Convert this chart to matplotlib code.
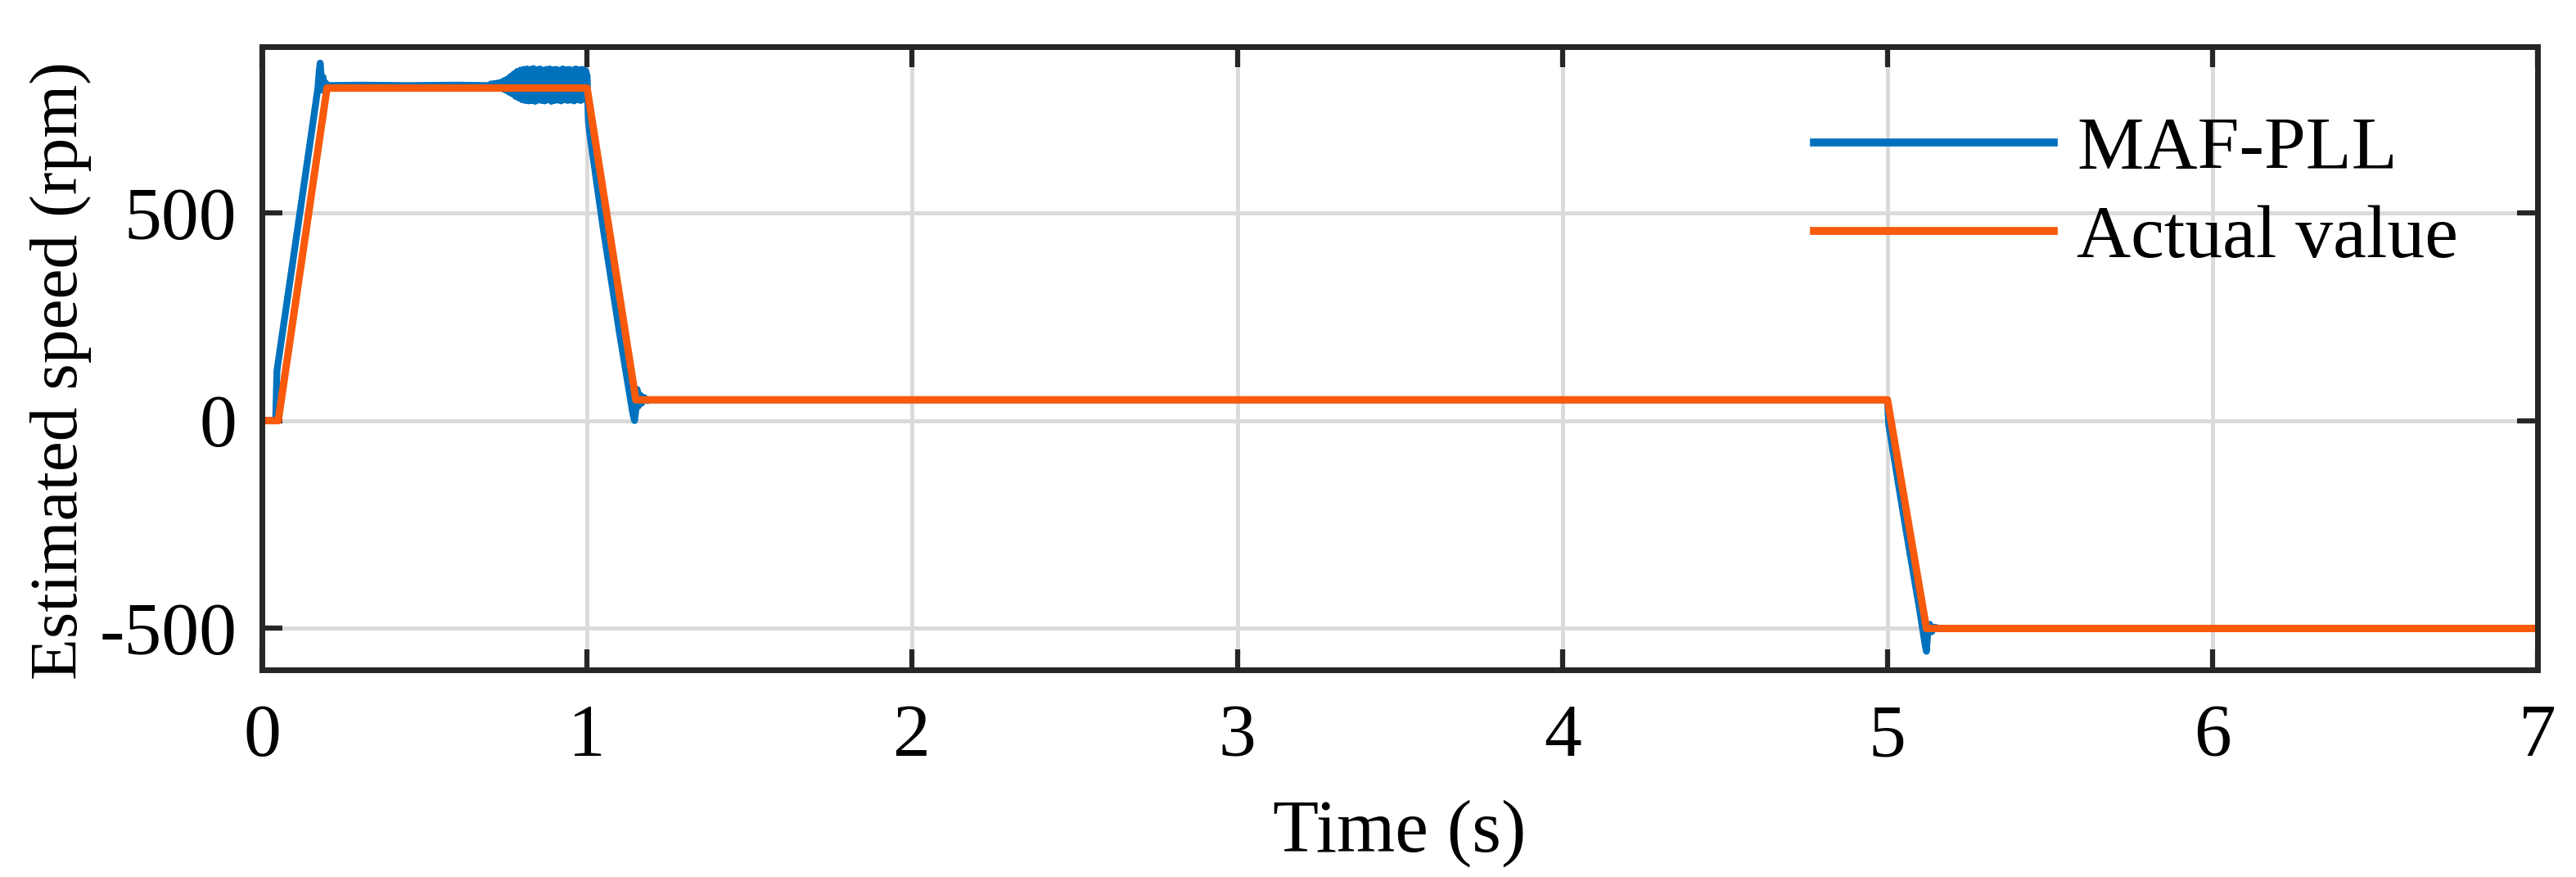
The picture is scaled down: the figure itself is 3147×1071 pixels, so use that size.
import matplotlib
matplotlib.use("Agg")
import matplotlib.pyplot as plt

plt.rcParams['font.family'] = ['Liberation Serif', 'DejaVu Serif']

# ---- Data ----
# Actual (reference) speed profile
actual_t = [0.0, 0.05, 0.20, 1.00, 1.15, 5.00, 5.12, 7.0]
actual_v = [0.0, 0.0, 800.0, 800.0, 50.0, 50.0, -500.0, -500.0]

# MAF-PLL estimated speed: key points
est_t_a = [0.0, 0.042, 0.046, 0.10, 0.150, 0.172, 0.176, 0.179, 0.182, 0.185, 0.188,
           0.192, 0.196, 0.20, 0.30, 0.45, 0.60, 0.695]
est_v_a = [0.0, 0.0, 120.0, 410.0, 680.0, 800.0, 840.0, 860.0, 830.0, 795.0, 826.0,
           800.0, 812.0, 806.0, 807.0, 806.0, 807.0, 806.0]

# oscillation band before the deceleration
osc_t = [0.700, 0.705, 0.710, 0.715, 0.720, 0.725, 0.730, 0.735, 0.740, 0.745,
         0.750, 0.755, 0.760, 0.765, 0.770, 0.775, 0.780, 0.785, 0.790, 0.795,
         0.800, 0.805, 0.810, 0.815, 0.820, 0.825, 0.830, 0.835, 0.840, 0.845,
         0.850, 0.855, 0.860, 0.865, 0.870, 0.875, 0.880, 0.885, 0.890, 0.895,
         0.900, 0.905, 0.910, 0.915, 0.920, 0.925, 0.930, 0.935, 0.940, 0.945,
         0.950, 0.955, 0.960, 0.965, 0.970, 0.975, 0.980, 0.985, 0.990, 0.995]
osc_v = [806, 810, 803, 811, 801, 812, 800, 814, 798, 818,
         795, 822, 790, 828, 786, 834, 780, 840, 776, 843,
         772, 845, 770, 846, 769, 845, 770, 847, 768, 844,
         771, 846, 770, 843, 769, 845, 772, 846, 768, 844,
         770, 845, 771, 843, 769, 846, 772, 844, 770, 845,
         771, 843, 769, 846, 772, 844, 770, 845, 773, 842]

est_t_b = [1.000, 1.004, 1.010, 1.050, 1.100, 1.140, 1.146, 1.150, 1.154, 1.158,
           1.163, 1.168, 1.175, 1.185, 1.20, 2.0, 3.0, 4.0, 5.000,
           5.004, 5.050, 5.100, 5.116, 5.120, 5.124, 5.130, 5.136, 5.145, 5.16, 6.0, 7.0]
est_v_b = [830, 720, 680, 460, 210, 20, 0, 25, 75, 35,
           62, 42, 56, 48, 50, 50, 50, 50, 50,
           -10, -230, -460, -540, -555, -510, -490, -508, -497, -500, -500, -500]

est_t = est_t_a + osc_t + est_t_b
est_v = est_v_a + osc_v + est_v_b

xticks = [0, 1, 2, 3, 4, 5, 6, 7]
yticks = [-500, 0, 500]
ytick_labels = ['-500', '0', '500']

# ---- Figure ----
fig = plt.figure(figsize=(31.47, 10.71), dpi=100)
ax = fig.add_axes([0.1017, 0.236, 0.8834, 0.711])

blue = '#0072BD'
orange = '#F95A0C'
ax.plot(est_t, est_v, color=blue, lw=6.0, label='MAF-PLL')
ax.plot(actual_t, actual_v, color=orange, lw=6.5, label='Actual value')

ax.set_xlim(0, 7)
ax.set_ylim(-600, 900)
ax.set_xticks(xticks)
ax.set_yticks(yticks)
ax.set_yticklabels(ytick_labels)

ax.grid(True, color='#dadada', lw=3.5)
ax.set_axisbelow(True)
for s in ax.spines.values():
    s.set_linewidth(5.0)
    s.set_color('#262626')

ax.tick_params(axis='both', direction='in', length=18, width=4.5, color='#262626',
               top=True, right=True, labelsize=66)
ax.tick_params(axis='x', pad=30)
ax.tick_params(axis='y', pad=22)

ax.set_xlabel('Time (s)', fontsize=66, labelpad=24)
ax.set_ylabel('Estimated speed (rpm)', fontsize=60)
ax.yaxis.set_label_coords(-0.0748, 0.48)

leg = ax.legend(loc='upper left', bbox_to_anchor=(0.682, 0.888), frameon=False,
                fontsize=66, handlelength=3.2, handletextpad=0.3,
                labelspacing=0.27, borderpad=0, borderaxespad=0)
for line in leg.get_lines():
    line.set_linewidth(7)

fig.savefig('out.png', dpi=100)
